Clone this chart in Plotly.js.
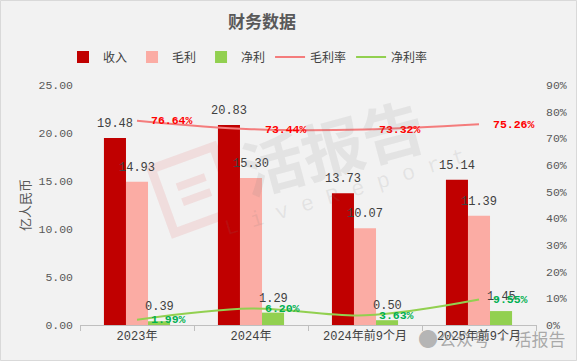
<!DOCTYPE html>
<html><head><meta charset="utf-8">
<script src="https://cdn.plot.ly/plotly-3.0.1.min.js"></script>
<style>html,body{margin:0;padding:0;background:#f2f2f2;}#chart{width:577px;height:361px;}</style>
</head><body><div id="chart"></div>
<script>
const categories = ['2023年', '2024年', '2024年前9个月', '2025年前9个月'];
const revenue = [19.48, 20.83, 13.73, 15.14];
const grossProfit = [14.93, 15.30, 10.07, 11.39];
const netProfit = [0.39, 1.29, 0.50, 1.45];
const grossMargin = [76.64, 73.44, 73.32, 75.26];
const netMargin = [1.99, 6.20, 3.63, 9.55];

const cjk = "'Noto Sans CJK SC', sans-serif";
const mono = "'Liberation Mono', 'Noto Sans CJK SC', monospace";

// plot-area geometry (for decorations only)
const M = {l: 80, r: 40, t: 85, b: 36};
const PW = 577 - M.l - M.r, PH = 361 - M.t - M.b;
const px = x => (x - M.l) / PW;
const py = y => (361 - M.b - y) / PH;

const barSeries = [
  {name: '收入', y: revenue, color: '#c00000'},
  {name: '毛利', y: grossProfit, color: '#fbaca4'},
  {name: '净利', y: netProfit, color: '#92d050'}
];
const lineSeries = [
  {name: '毛利率', y: grossMargin, color: '#f47c7c', label: '#ff0000'},
  {name: '净利率', y: netMargin, color: '#92d050', label: '#00b050'}
];

const traces = barSeries.map(s => ({
  type: 'bar', name: s.name, x: categories, y: s.y, marker: {color: s.color}, hoverinfo: 'skip'
}));
lineSeries.forEach(s => traces.push({
  type: 'scatter', mode: 'lines', name: s.name, x: categories, y: s.y, yaxis: 'y2',
  line: {color: s.color, width: 2, shape: 'spline'}, cliponaxis: false, hoverinfo: 'skip'
}));

const annotations = [];
barSeries.forEach((s, k) => {
  s.y.forEach((v, i) => {
    annotations.push({x: categories[i], y: v, xref: 'x', yref: 'y', text: v.toFixed(2), showarrow: false,
      xanchor: 'center', yanchor: 'middle', xshift: (k - 1) * 22, yshift: 14,
      font: {size: 12, color: '#404040', family: mono}});
  });
});
lineSeries.forEach(s => {
  s.y.forEach((v, i) => {
    annotations.push({x: categories[i], y: v, xref: 'x', yref: 'y2', text: v.toFixed(2) + '%', showarrow: false,
      xanchor: 'left', yanchor: 'middle', xshift: 12, yshift: 0,
      font: {size: 11.5, color: s.label, family: mono, weight: 'bold'}});
  });
});
annotations.push(
  {text: '活报告', xref: 'paper', yref: 'paper', x: px(332), y: py(145), xanchor: 'center', yanchor: 'middle',
   showarrow: false, textangle: -15, font: {size: 62, color: 'rgba(120,120,120,0.12)', family: cjk, weight: 'bold'}},
  {text: 'L i v e R e p o r t', xref: 'paper', yref: 'paper', x: px(345), y: py(193), xanchor: 'center', yanchor: 'middle',
   showarrow: false, textangle: -17, font: {size: 22, color: 'rgba(120,120,120,0.12)', family: "'Liberation Mono', monospace"}},
  {text: '公众号 · 活报告', xref: 'paper', yref: 'paper', x: px(502), y: py(338), xanchor: 'center', yanchor: 'middle',
   showarrow: false, font: {size: 17, color: 'rgba(120,120,120,0.6)', family: cjk}},
  {text: '●', xref: 'paper', yref: 'paper', x: px(428), y: py(338), xanchor: 'center', yanchor: 'middle',
   showarrow: false, font: {size: 20, color: 'rgba(120,120,120,0.5)', family: cjk}}
);

// pink logo (decoration), rotated square outline with two bars
function rotPath(pts, cx, cy, ang) {
  const a = ang * Math.PI / 180;
  return pts.map(([x, y], j) => {
    const rx = cx + (x * Math.cos(a) - y * Math.sin(a));
    const ry = cy + (x * Math.sin(a) + y * Math.cos(a));
    return (j ? 'L' : 'M') + px(rx).toFixed(4) + ',' + py(ry).toFixed(4);
  }).join(' ');
}
const lcx = 193, lcy = 190, ang = -20;
const logoOuter = rotPath([[-32, -34], [34, -34], [34, 34], [-32, 34], [-32, -34]], lcx, lcy, ang) + ' Z';
const bar1 = rotPath([[-14, -8], [16, -8]], lcx, lcy, ang);
const bar2 = rotPath([[-14, 8], [16, 8]], lcx, lcy, ang);

const layout = {
  width: 577, height: 361,
  paper_bgcolor: '#f2f2f2', plot_bgcolor: '#f2f2f2',
  font: {family: cjk, color: '#595959', size: 12},
  margin: M,
  title: {text: '<b>财务数据</b>', font: {size: 17, color: '#595959', family: cjk},
          x: 262/577, xanchor: 'center', xref: 'container', y: 1 - 22/361, yanchor: 'middle', yref: 'container'},
  barmode: 'group', bargap: 0.42, bargroupgap: 0,
  showlegend: true,
  legend: {orientation: 'h', x: 248/577, xanchor: 'center', y: 1 - 57/361, yanchor: 'middle', yref: 'container', xref: 'container',
           font: {size: 12, color: '#404040', family: cjk}, bgcolor: 'rgba(0,0,0,0)', traceorder: 'normal', itemwidth: 30},
  xaxis: {type: 'category', showgrid: false, showline: true, linecolor: '#bfbfbf', linewidth: 1,
          ticks: 'outside', tickson: 'boundaries', tickcolor: '#bfbfbf', ticklen: 5,
          tickfont: {size: 12, color: '#404040', family: mono}, fixedrange: true},
  yaxis: {range: [0, 25], dtick: 5, tickformat: '.2f', showgrid: false, zeroline: false,
          tickfont: {size: 11.5, color: '#595959', family: mono}, ticklabelstandoff: 6,
          title: {text: '亿人民币', font: {size: 13, color: '#595959', family: cjk}, standoff: 4}},
  yaxis2: {range: [0, 90], dtick: 10, ticksuffix: '%', overlaying: 'y', side: 'right', showgrid: false, zeroline: false,
           tickfont: {size: 11.5, color: '#595959', family: mono}, ticklabelstandoff: 8},
  annotations: annotations,
  shapes: [
    {type: 'rect', xref: 'paper', yref: 'paper', x0: px(0.5), x1: px(576.5), y0: py(360.5), y1: py(0.5),
     line: {color: '#d9d9d9', width: 1}, fillcolor: 'rgba(0,0,0,0)', layer: 'below'},
    {type: 'path', xref: 'paper', yref: 'paper', path: logoOuter, line: {color: 'rgba(230,110,110,0.16)', width: 9}, layer: 'below'},
    {type: 'path', xref: 'paper', yref: 'paper', path: bar1, line: {color: 'rgba(230,110,110,0.16)', width: 8}, layer: 'below'},
    {type: 'path', xref: 'paper', yref: 'paper', path: bar2, line: {color: 'rgba(230,110,110,0.16)', width: 8}, layer: 'below'}
  ]
};

Plotly.newPlot('chart', traces, layout, {staticPlot: true, displayModeBar: false});
</script></body></html>
